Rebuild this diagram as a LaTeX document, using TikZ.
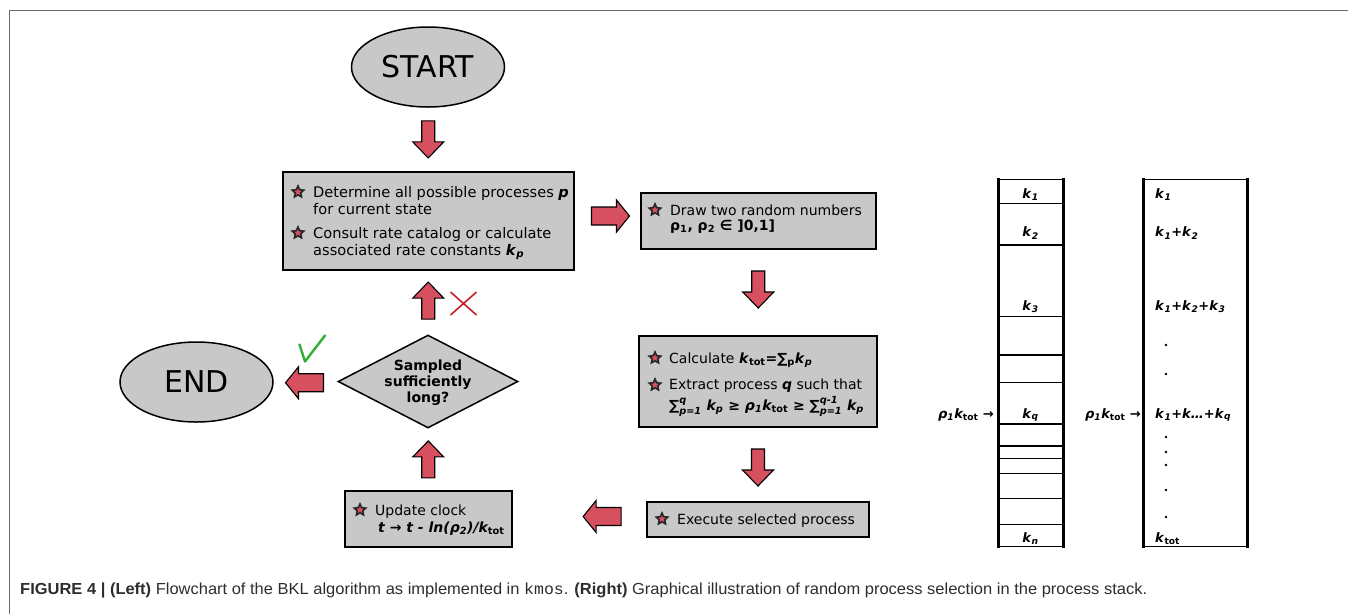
\documentclass[tikz,border=0pt]{standalone}
\usepackage{amsmath}
\usepackage{fontspec}
\setmainfont{DejaVu Sans}
\newfontfamily\capfont{Liberation Sans}
\newfontfamily\capmono{Liberation Mono}
\usetikzlibrary{shapes.geometric,calc}
\definecolor{boxgray}{RGB}{200,200,200}
\definecolor{arrred}{RGB}{214,80,96}
\definecolor{xred}{RGB}{196,32,40}
\definecolor{chkgreen}{RGB}{50,175,50}
\definecolor{framegray}{RGB}{105,105,105}
\definecolor{capgray}{RGB}{45,45,45}
\newcommand\bi[1]{\textbf{\textit{#1}}}
\newcommand\bsb[1]{$_{\text{\bfseries\itshape #1}}$}
\newcommand\bsu[1]{$_{\text{\bfseries\upshape #1}}$}
\newcommand\kt{\bi{k}\bsu{tot}}
\newcommand\kk[1]{\bi{k}\bsb{#1}}
\tikzset{
  box/.style={rectangle, draw=black, fill=boxgray, line width=1.8pt, inner sep=0pt},
  oval/.style={ellipse, draw=black, fill=boxgray, line width=1.5pt, inner sep=0pt,
    minimum width=153pt, minimum height=80pt, font=\fontsize{30}{36}\selectfont},
  ft/.style={inner sep=0pt, anchor=base west, font=\fontsize{14}{17}\selectfont},
  ftb/.style={inner sep=0pt, anchor=base west, font=\fontsize{14.6}{17}\selectfont},
  dt/.style={inner sep=0pt, anchor=base, font=\fontsize{14}{17}\selectfont\bfseries},
  st/.style={inner sep=0pt, font=\fontsize{13}{16}\selectfont},
  bstar/.style={star, star points=5, star point ratio=2.1, minimum size=12pt, inner sep=0pt,
    fill=arrred, draw=black!85, line width=1.6pt},
  arrowfill/.style={fill=arrred, draw=black, line width=1.1pt, line join=miter},
  pics/varrow/.style={code={\draw[arrowfill] (-18.5,-6.5) -- (2.5,-6.5) -- (2.5,-15.5) -- (18.5,0)
      -- (2.5,15.5) -- (2.5,6.5) -- (-18.5,6.5) -- cycle;}},
  pics/harrow/.style={code={\draw[arrowfill] (-19,-9) -- (6,-9) -- (6,-16) -- (19,0)
      -- (6,16) -- (6,9) -- (-19,9) -- cycle;}},
  thinl/.style={line width=1.1pt},
  thickl/.style={line width=3pt},
}
\begin{document}
\begin{tikzpicture}[x=1pt,y=-1pt]
\useasboundingbox (0,0) rectangle (1348,614);
% frame
\draw[framegray, line width=1.7pt] (9.5,614) -- (9.5,10.5) -- (1348,10.5);

% nodes
\node[oval] (start) at (428,67) {START};
\node[box, minimum width=291pt, minimum height=98pt] (b1) at (428.5,221) {};
\node[box, minimum width=235pt, minimum height=56pt] (b2) at (758.5,221) {};
\node[box, minimum width=238pt, minimum height=91pt] (b3) at (758,381.5) {};
\node[box, minimum width=222pt, minimum height=35pt] (b4) at (758,519.5) {};
\node[box, minimum width=167pt, minimum height=56pt] (b5) at (428.5,519) {};
\node[diamond, draw=black, fill=boxgray, line width=1.5pt, inner sep=0pt,
  minimum width=180pt, minimum height=93pt] (dia) at (428,381.5) {};
\node[oval] (endn) at (196.5,382) {END};

% box 1 text
\node[bstar] (s1) at (298,192) {};
\node[ftb] (t1a) at (313,197) {Determine all possible processes \bi{p}};
\node[ftb] (t1b) at (313,214) {for current state};
\node[bstar] (s2) at (298,233) {};
\node[ftb] (t1c) at (313,238) {Consult rate catalog or calculate};
\node[ftb] (t1d) at (313,255) {associated rate constants \kk{p}};

% box 2 text
\node[bstar] (s3) at (655,210) {};
\node[ft] (t2a) at (670,215) {Draw two random numbers};
\node[ft] (t2b) at (670,230) {\bfseries ρ\bsu{1}, ρ\bsu{2} ∈ ]0,1]};

% box 3 text
\node[bstar] (s4) at (655,358) {};
\node[ft] (t3a) at (669,363) {Calculate \kt\textbf{=∑}\bsu{p}\kk{p}};
\node[bstar] (s5) at (655,385) {};
\node[ft] (t3b) at (669,389) {Extract process \bi{q} such that};
\node[ft] (t3c) at (669,410) {\bfseries\itshape ∑$^{\text{\bfseries\itshape q}}_{\text{\bfseries\itshape p=1}}$ \kk{p} ≥ ρ\bsb{1}\kt{} ≥ ∑$^{\text{\bfseries\itshape q-1}}_{\text{\bfseries\itshape p=1}}$ \kk{p}};

% box 4 text
\node[bstar] (s6) at (662,519) {};
\node[ft] (t4) at (677,524) {Execute selected process};

% box 5 text
\node[bstar] (s7) at (360,510) {};
\node[ft] (t5a) at (375,515) {Update clock};
\node[ft] (t5b) at (378,532) {\bfseries\itshape t → t - ln(ρ\bsb{2})/\kt};

% diamond text
\node[dt] (d1) at (428,370) {Sampled};
\node[dt] (d2) at (428,386) {sufficiently};
\node[dt] (d3) at (428,402) {long?};

% block arrows
\pic[rotate=-90] at ($(start.south)!0.5!(b1.north)$) {varrow};
\pic at ($(b1.east)!0.5!(b2.west)+(3,-5)$) {harrow};
\pic[rotate=-90] at ($(b2.south)!0.5!(b3.north)+(0,-3)$) {varrow};
\pic[rotate=-90] at ($(b3.south)!0.5!(b4.north)+(0,3)$) {varrow};
\pic[rotate=180] at ($(b4.west)+(-44,-3)$) {harrow};
\pic[rotate=90] at ($(b5.north)!0.5!(dia.south)$) {varrow};
\pic[rotate=90] at ($(dia.north)!0.5!(b1.south)+(0,-2)$) {varrow};
\pic[rotate=180] at ($(endn.east)!0.5!(dia.west)+(-1,1)$) {harrow};

% cross and check
\coordinate (xc) at (463.5,303.5);
\draw[xred, line width=1.6pt] ($(xc)+(-13,-11.5)$) -- ($(xc)+(13,11.5)$)
  ($(xc)+(-13,11.5)$) -- ($(xc)+(13,-11.5)$);
\coordinate (ck) at (305,361.5);
\draw[chkgreen, line width=2.4pt, line join=round, line cap=round]
  ($(ck)+(-5.5,-17)$) -- (ck) -- ($(ck)+(20,-26)$);

% left stack
\draw[thinl] (998,179.3) -- (1063,179.3);
\foreach \yy in {203.3,245,316.7,355,382.7,424,446,458.3,473.3,498.3,524.3}
  \draw[thinl] (998,\yy) -- (1063,\yy);
\draw[thinl] (998,546.7) -- (1063,546.7);
\draw[thickl] (998,178) -- (998,548);
\draw[thickl] (1063,178) -- (1063,548);
\node[st, anchor=base] (l1) at (1030.5,198) {\kk{1}};
\node[st, anchor=base] (l2) at (1030.5,236.7) {\kk{2}};
\node[st, anchor=base] (l3) at (1030.5,310) {\kk{3}};
\node[st, anchor=base] (lq) at (1030.5,418) {\kk{q}};
\node[st, anchor=base] (ln) at (1030.5,542.7) {\kk{n}};
\node[st, anchor=base east] (p1) at (994,418) {\bfseries\itshape ρ\bsb{1}\kt{} →};

% right stack
\draw[thinl] (1143,179.3) -- (1247,179.3);
\draw[thinl] (1143,546.7) -- (1247,546.7);
\draw[thickl] (1143,178) -- (1143,548);
\draw[thickl] (1247,178) -- (1247,548);
\node[st, anchor=base west] (r1) at (1155,198) {\kk{1}};
\node[st, anchor=base west] (r2) at (1155,236.7) {\kk{1}\bi{+}\kk{2}};
\node[st, anchor=base west] (r3) at (1155,310) {\kk{1}\bi{+}\kk{2}\bi{+}\kk{3}};
\node[st, anchor=base west] (rq) at (1155,418) {\kk{1}\bi{+k…+}\kk{q}};
\node[st, anchor=base west] (rn) at (1155,542.7) {\kt};
\node[st, anchor=base east] (p2) at (1141,418) {\bfseries\itshape ρ\bsb{1}\kt{} →};
\foreach \yy in {345,374,437,452,465,490,517}
  \fill (1166,\yy) circle (1.3);

% caption
\node[inner sep=0pt, anchor=base west, text=capgray, font=\capfont\fontsize{16}{19}\selectfont] (cap) at (20,594)
  {\resizebox{1127pt}{\height}{\textbf{FIGURE 4 | (Left)} Flowchart of the BKL algorithm as implemented in {\capmono kmos}. \textbf{(Right)} Graphical illustration of random process selection in the process stack.}};
\end{tikzpicture}
\end{document}
